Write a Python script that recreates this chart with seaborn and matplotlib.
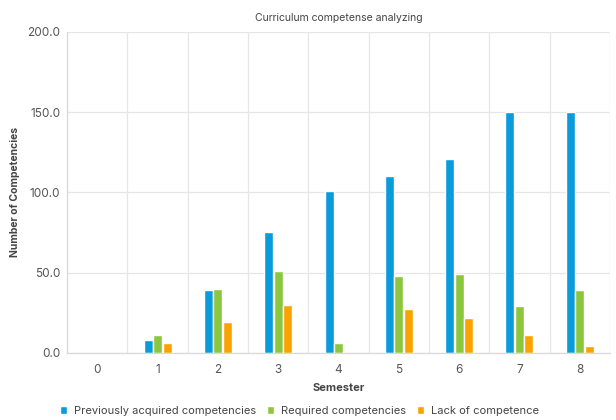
import matplotlib
matplotlib.use("Agg")
import matplotlib.pyplot as plt
import seaborn as sns
import pandas as pd
from matplotlib.ticker import FixedLocator, FormatStrFormatter

semesters = ["0", "1", "2", "3", "4", "5", "6", "7", "8"]
previously_acquired = [0, 8, 39, 75, 101, 110, 121, 150, 150]
required = [0, 11, 40, 51, 6, 48, 49, 29, 39]
lack = [0, 6, 19, 30, 0, 27, 22, 11, 4]
series_names = ["Previously acquired competencies", "Required competencies", "Lack of competence"]
colors = ["#0A9BDB", "#8CC63F", "#FAA300"]

rows = []
for name, vals in zip(series_names, [previously_acquired, required, lack]):
    for s, v in zip(semesters, vals):
        rows.append({"Semester": s, "Value": v, "Series": name})
df = pd.DataFrame(rows)

sns.set_theme(style="white")
plt.rcParams['font.family'] = ['Inter', 'DejaVu Sans']

fig = plt.figure(figsize=(6.16, 4.2), dpi=100)
ax = fig.add_axes([0.109, 0.16, 0.881, 0.764])

sns.barplot(data=df, x="Semester", y="Value", hue="Series", order=semesters,
            hue_order=series_names, palette=colors, width=0.47, gap=0.05,
            ax=ax, saturation=1, legend=True)

ax.set_ylim(0, 200)
ax.set_xlim(-0.5, len(semesters) - 0.5)
ax.set_yticks([0, 50, 100, 150, 200])
ax.yaxis.set_major_formatter(FormatStrFormatter("%.1f"))
ax.xaxis.set_minor_locator(FixedLocator([i - 0.5 for i in range(len(semesters) + 1)]))
ax.grid(True, axis="y", color="#E6E6E6", linewidth=0.9)
ax.grid(True, axis="x", which="minor", color="#E6E6E6", linewidth=0.9)
ax.grid(False, axis="x", which="major")
ax.set_axisbelow(True)

for side in ["top", "right"]:
    ax.spines[side].set_visible(False)
for side in ["left", "bottom"]:
    ax.spines[side].set_color("#D9D9D9")
    ax.spines[side].set_linewidth(0.9)

ax.tick_params(axis="y", labelsize=8.5, colors="#555555", length=0, pad=5)
ax.tick_params(axis="x", which="major", labelsize=8.5, colors="#555555", length=0, pad=8)
ax.tick_params(axis="x", which="minor", length=4, color="#D9D9D9", width=0.9)

ax.set_xlabel("Semester", fontsize=8, fontweight="bold", color="#444444", labelpad=5)
ax.set_ylabel("Number of Competencies", fontsize=7.5, fontweight="bold", color="#444444", labelpad=5)
ax.set_title("Curriculum competense analyzing", fontsize=7.5, color="#444444", pad=8)

handles, labels = ax.get_legend_handles_labels()
ax.legend_.remove()
fig.legend(handles, labels, loc="center", bbox_to_anchor=(0.486, 0.022), ncol=3,
           frameon=False, fontsize=8, handlelength=0.65, handleheight=0.65,
           handletextpad=0.6, columnspacing=1.0, labelcolor="#444444")

fig.savefig("out.png", dpi=100)
